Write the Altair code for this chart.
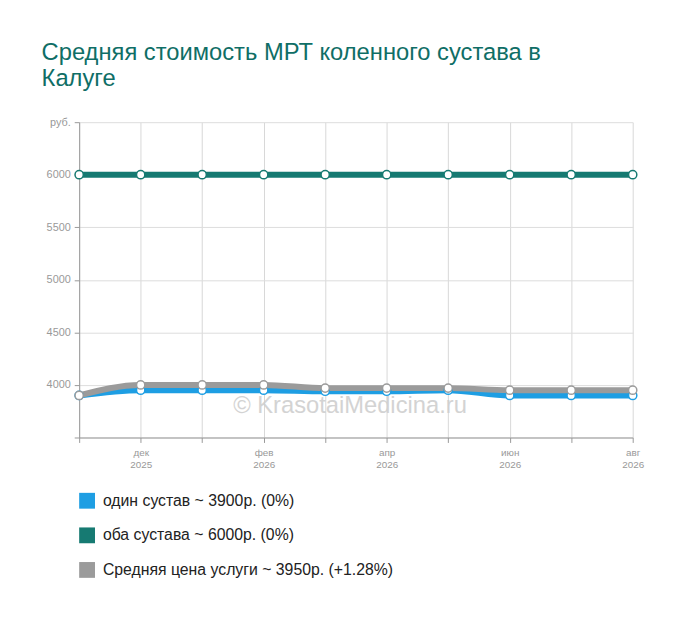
import altair as alt
import pandas as pd

months = ["2025-11", "2025-12", "2026-01", "2026-02", "2026-03",
          "2026-04", "2026-05", "2026-06", "2026-07", "2026-08"]
month_names = ["", "дек", "", "фев", "", "апр", "", "июн", "", "авг"]
month_years = ["", "2025", "", "2026", "", "2026", "", "2026", "", "2026"]

one_joint = [3900, 3950, 3950, 3950, 3940, 3940, 3950, 3900, 3900, 3900]
both_joints = [6000, 6000, 6000, 6000, 6000, 6000, 6000, 6000, 6000, 6000]
average = [3900, 4000, 4000, 4000, 3970, 3970, 3970, 3950, 3950, 3950]

s_one = "один сустав ~ 3900р. (0%)"
s_both = "оба сустава ~ 6000р. (0%)"
s_avg = "Средняя цена услуги ~ 3950р. (+1.28%)"
series_names = [s_one, s_both, s_avg]
series_colors = ["#1e9ee3", "#167a72", "#9b9b9b"]

rows = []
for name, vals, order in [(s_one, one_joint, 0), (s_avg, average, 1), (s_both, both_joints, 2)]:
    for m, v in zip(months, vals):
        rows.append({"month": m, "price": v, "series": name, "order": order})
df = pd.DataFrame(rows)

def js_list(lst):
    return "[" + ",".join("'" + s + "'" for s in lst) + "]"

label_expr = (
    f"[{js_list(month_names)}[indexof({js_list(months)}, datum.value)], "
    f"{js_list(month_years)}[indexof({js_list(months)}, datum.value)]]"
)

x = alt.X("month:O", scale=alt.Scale(domain=months, type="point", padding=0),
          axis=alt.Axis(title=None, labelAngle=0, labelExpr=label_expr,
                        grid=True, gridColor="#d8d8d8", domainColor="#999999",
                        tickColor="#999999", tickSize=5, labelColor="#999999",
                        labelFontSize=10, labelLineHeight=12, labelPadding=5,
                        labelBaseline="top"))
y = alt.Y("price:Q", scale=alt.Scale(domain=[3500, 6500], nice=False, zero=False),
          axis=alt.Axis(title=None, values=[3500, 4000, 4500, 5000, 5500, 6000, 6500],
                        labelExpr="datum.value == 6500 ? 'руб.' : (datum.value == 3500 ? '' : datum.value)",
                        gridColor="#dddddd", domainColor="#999999", tickColor="#999999",
                        tickSize=5, labelColor="#999999", labelFontSize=11, labelPadding=4))
color = alt.Color("series:N", scale=alt.Scale(domain=series_names, range=series_colors),
                  legend=alt.Legend(title=None, orient="none", legendX=0, legendY=375,
                                    symbolType="square", symbolSize=64, symbolStrokeWidth=8,
                                    symbolOpacity=1, labelFontSize=16, labelColor="#222222",
                                    rowPadding=-5, labelOffset=8, labelLimit=500))

base = alt.Chart(df)
lines = base.mark_line(strokeWidth=6, interpolate="monotone", strokeJoin="round").encode(
    x=x, y=y, color=color, detail="series:N", order=alt.Order("order:Q"))
points = base.mark_point(filled=True, fill="white", size=70, strokeWidth=1.5, opacity=1).encode(
    x=x, y=y, stroke=alt.Stroke("series:N", scale=alt.Scale(domain=series_names, range=series_colors), legend=None))

wm = alt.Chart(pd.DataFrame({"t": ["© KrasotaiMedicina.ru"], "price": [3800]})).mark_text(
    fontSize=24, color="#cfcfcf", opacity=0.9, align="center", baseline="middle",
    font="Liberation Sans").encode(x=alt.value(274), y=alt.Y("price:Q"), text="t:N")

chart = alt.layer(lines, points, wm).properties(
    width=560, height=319,
    padding={"left": 72, "top": 112, "right": 60, "bottom": 170},
    autosize="none",
    title=alt.TitleParams(
        text=["Средняя стоимость МРТ коленного сустава в", "Калуге"],
        anchor="start", frame="group", dx=-38, offset=26, fontSize=24, fontWeight="normal",
        color="#0f6e66", font="Liberation Sans", lineHeight=26),
).configure(font="Liberation Sans").configure_view(stroke=None)

chart.save("out.html", embed_options={"renderer": "svg", "actions": False})
